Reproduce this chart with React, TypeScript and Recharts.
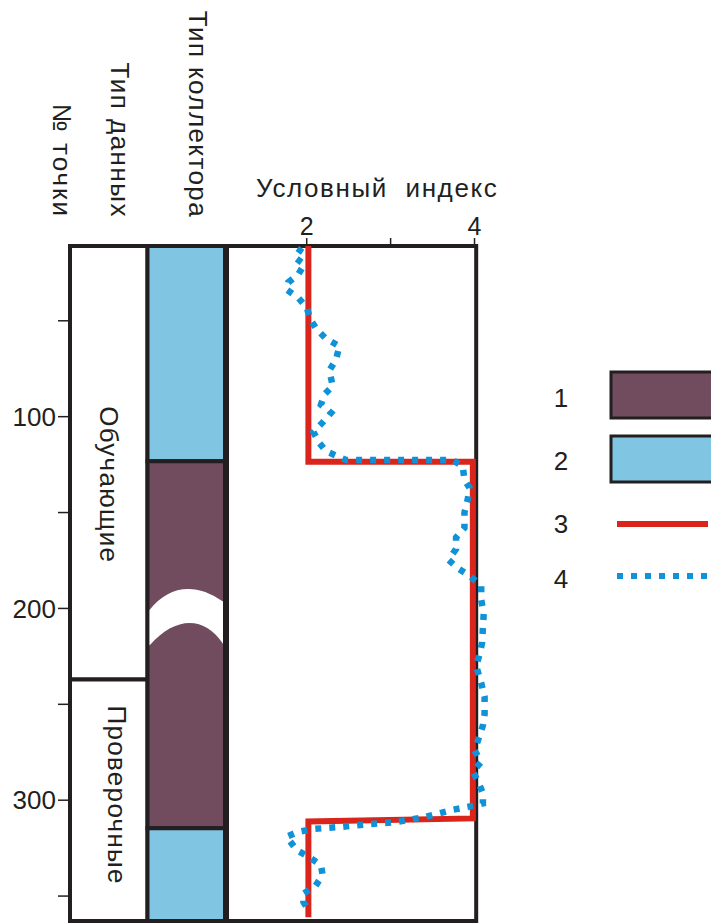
import { ComposedChart, Line, XAxis, YAxis, ReferenceArea, Label } from 'recharts'

const FONT = '"Liberation Sans", Arial, sans-serif'
const INK = '#231f20'
const RED = '#da251d'
const BLUE = '#0f92d7'

const COLLECTOR_COLORS: Record<number, string> = {
  1: '#704c5e',
  2: '#80c6e3',
}

// point number axis (vertical, top -> bottom)
const DEPTH_MIN = 11
const DEPTH_MAX = 363
const DEPTH_TICKS = [50, 100, 150, 200, 250, 300, 350]
const DEPTH_LABELS = [100, 200, 300]

// conditional index axis
const INDEX_MIN = 1.05
const INDEX_MAX = 4.2
const INDEX_FRAME = [1.05, 4.02]
const INDEX_TICKS = [2, 3, 4]
const INDEX_LABELS = [2, 4]

const DATA_TYPE_NAMES = ['Обучающие', 'Проверочные']
const DATA_TYPE_BOUNDS = [11, 237, 363]

const COLLECTOR_TYPES = [2, 1, 2]
const COLLECTOR_BOUNDS = [11, 123.3, 314.6, 363]
const BREAK_DEPTH = [189, 220]

const LEGEND_LABELS = ['1', '2', '3', '4']

// curve 3 (red, solid)
const MODEL_DEPTH = [11, 123.5, 123.5, 309.5, 311.1, 361]
const MODEL_INDEX = [2.02, 2.02, 3.98, 3.98, 2.02, 2.02]

// curve 4 (blue, dotted)
const CALC_DEPTH = [
  12, 17, 20.6, 25.8, 30, 33.7, 38, 43, 49, 54.6, 59.3, 63.3, 70, 76, 84, 88.5, 93.7, 98, 103, 108,
  113.7, 118, 120.7, 122.6, 122.6, 126, 133, 137, 143, 150, 158, 163, 169, 174.7, 179, 183, 188,
  195.5, 202.5, 210, 218, 224, 230, 239, 246, 250, 255, 261, 269, 274, 280, 285, 291, 296.5, 301.7,
  303.5, 305, 308.7, 311.4, 312.5, 314, 315, 316.5, 319, 326, 330, 334, 339, 345, 348.7, 353, 358,
]
const CALC_INDEX = [
  1.94, 1.86, 1.97, 1.9, 1.78, 1.76, 1.9, 2.0, 2.04, 2.12, 2.23, 2.39, 2.35, 2.27, 2.31, 2.21, 2.17,
  2.29, 2.19, 2.08, 2.15, 2.23, 2.37, 2.47, 3.74, 3.86, 3.88, 3.94, 3.92, 3.88, 3.88, 3.78, 3.78, 3.69,
  3.8, 3.94, 4.08, 4.08, 4.11, 4.1, 4.09, 4.06, 4.02, 4.08, 4.12, 4.12, 4.12, 4.1, 4.04, 4.0, 4.08,
  3.98, 4.05, 4.1, 4.1, 3.92, 3.74, 3.42, 3.07, 2.75, 2.39, 2.08, 1.9, 1.76, 1.88, 2.04, 2.17, 2.19,
  2.1, 1.96, 1.96, 2.03,
]

const modelData = MODEL_DEPTH.map((n, i) => ({ n, v: MODEL_INDEX[i] }))
const calcData = CALC_DEPTH.map((n, i) => ({ n, v: CALC_INDEX[i] }))
const depthBounds = [{ n: DEPTH_MIN, c: 0 }, { n: DEPTH_MAX, c: 2 }]

const PLOT_TOP = 246
const PLOT_BOTTOM = 3
const INDEX_AXIS_H = 30
const textStyle = { fontFamily: FONT, fontSize: 26, fill: INK }

// white "break" crescent inside the collector column
function BreakShape(props: any) {
  const { x, y, width: w, height: h } = props
  const l = x + 2
  const r = x + w - 2
  const W = r - l
  const d = [
    `M${l},${y + 0.38 * h}`,
    `C${l + 0.25 * W},${y - 0.02 * h} ${l + 0.62 * W},${y - 0.1 * h} ${r},${y + 0.24 * h}`,
    `L${r},${y + 0.95 * h}`,
    `C${l + 0.75 * W},${y + 0.48 * h} ${l + 0.35 * W},${y + 0.48 * h} ${l},${y + 0.98 * h}`,
    'Z',
  ].join(' ')
  return <path d={d} fill="#fff" />
}

function rotatedLabel(text: string, baseX: number, shift: number) {
  return ({ viewBox }: any) => {
    const cy = viewBox.y + viewBox.height / 2 + shift
    return (
      <text
        x={baseX}
        y={cy}
        transform={`rotate(90 ${baseX} ${cy})`}
        textAnchor="middle"
        letterSpacing={1.3}
        {...textStyle}
      >
        {text}
      </text>
    )
  }
}

function RotatedHeader({ x, text, spacing }: { x: number; text: string; spacing: number }) {
  return (
    <text
      x={x}
      y={218}
      transform={`rotate(90 ${x} 218)`}
      textAnchor="end"
      letterSpacing={spacing}
      {...textStyle}
    >
      {text}
    </text>
  )
}

export default function App() {
  const labelX = [100, 108]
  const labelShift = [22, -5]
  return (
    <div style={{ position: 'absolute', left: 0, top: 0, width: 711, height: 924, background: '#fff', overflow: 'hidden' }}>
      {/* point number axis + data type + collector type columns */}
      <ComposedChart
        width={225}
        height={924}
        layout="vertical"
        data={depthBounds}
        margin={{ top: PLOT_TOP, bottom: PLOT_BOTTOM, left: 0, right: 0 }}
        style={{ position: 'absolute', left: 0, top: 0 }}
      >
        <XAxis type="number" dataKey="c" domain={[0, 2]} allowDataOverflow hide />
        <YAxis
          type="number"
          dataKey="n"
          domain={[DEPTH_MIN, DEPTH_MAX]}
          allowDataOverflow
          ticks={DEPTH_TICKS}
          interval={0}
          width={70}
          tickSize={12}
          tickMargin={2}
          axisLine={false}
          tickLine={{ stroke: INK, strokeWidth: 1.5 }}
          tick={textStyle}
          tickFormatter={(v: number) => (DEPTH_LABELS.includes(v) ? String(v) : '')}
        />
        {DATA_TYPE_NAMES.map((name, i) => (
          <ReferenceArea
            key={name}
            x1={0}
            x2={1}
            y1={DATA_TYPE_BOUNDS[i]}
            y2={DATA_TYPE_BOUNDS[i + 1]}
            fill="#fff"
            fillOpacity={1}
            stroke={INK}
            strokeWidth={4}
            ifOverflow="visible"
          >
            <Label content={rotatedLabel(name, labelX[i], labelShift[i])} />
          </ReferenceArea>
        ))}
        {COLLECTOR_TYPES.map((t, i) => (
          <ReferenceArea
            key={i}
            x1={1}
            x2={2}
            y1={COLLECTOR_BOUNDS[i]}
            y2={COLLECTOR_BOUNDS[i + 1]}
            fill={COLLECTOR_COLORS[t]}
            fillOpacity={1}
            stroke={INK}
            strokeWidth={4}
            ifOverflow="visible"
          />
        ))}
        <ReferenceArea
          x1={1}
          x2={2}
          y1={BREAK_DEPTH[0]}
          y2={BREAK_DEPTH[1]}
          shape={BreakShape}
          ifOverflow="visible"
        />
      </ComposedChart>

      {/* conditional index plot */}
      <ComposedChart
        width={500}
        height={924}
        layout="vertical"
        margin={{ top: PLOT_TOP - INDEX_AXIS_H, bottom: PLOT_BOTTOM, left: 227, right: 8.7 }}
        style={{ position: 'absolute', left: 0, top: 0 }}
      >
        <XAxis
          type="number"
          orientation="top"
          domain={[INDEX_MIN, INDEX_MAX]}
          allowDataOverflow
          ticks={INDEX_TICKS}
          interval={0}
          height={INDEX_AXIS_H}
          tickSize={8}
          tickMargin={3}
          axisLine={false}
          tickLine={{ stroke: INK, strokeWidth: 1.5 }}
          tick={{ ...textStyle, fontSize: 25 }}
          tickFormatter={(v: number) => (INDEX_LABELS.includes(v) ? String(v) : '')}
        />
        <YAxis type="number" dataKey="n" domain={[DEPTH_MIN, DEPTH_MAX]} allowDataOverflow hide />
        <ReferenceArea
          x1={INDEX_FRAME[0]}
          x2={INDEX_FRAME[1]}
          y1={DEPTH_MIN}
          y2={DEPTH_MAX}
          fill="none"
          stroke={INK}
          strokeWidth={4}
          ifOverflow="visible"
        />
        <Line
          data={modelData}
          dataKey="v"
          type="linear"
          stroke={RED}
          strokeWidth={6}
          strokeLinejoin="miter"
          dot={false}
          activeDot={false}
          isAnimationActive={false}
        />
        <Line
          data={calcData}
          dataKey="v"
          type="linear"
          stroke={BLUE}
          strokeWidth={6.5}
          strokeDasharray="6 8"
          dot={false}
          activeDot={false}
          isAnimationActive={false}
        />
      </ComposedChart>

      {/* headers and legend */}
      <svg width={711} height={924} style={{ position: 'absolute', left: 0, top: 0, pointerEvents: 'none' }}>
        <RotatedHeader x={53} text="№ точки" spacing={2} />
        <RotatedHeader x={111} text="Тип данных" spacing={1.5} />
        <RotatedHeader x={189} text="Тип коллектора" spacing={1.4} />
        <text x={256} y={197} style={{ whiteSpace: 'pre' }} letterSpacing={1.6} {...textStyle}>
          {'Условный  индекс'}
        </text>

        {LEGEND_LABELS.map((t, i) => (
          <text key={t} x={561} y={[407, 470, 533, 588][i]} textAnchor="middle" {...textStyle}>
            {t}
          </text>
        ))}
        <rect x={611} y={372} width={110} height={46} fill={COLLECTOR_COLORS[1]} stroke={INK} strokeWidth={3} />
        <rect x={611} y={436} width={110} height={46} fill={COLLECTOR_COLORS[2]} stroke={INK} strokeWidth={3} />
        <line x1={617} y1={524} x2={708} y2={524} stroke={RED} strokeWidth={6} />
        <line x1={617} y1={576} x2={715} y2={576} stroke={BLUE} strokeWidth={6} strokeDasharray="6 8" />
      </svg>
    </div>
  )
}
